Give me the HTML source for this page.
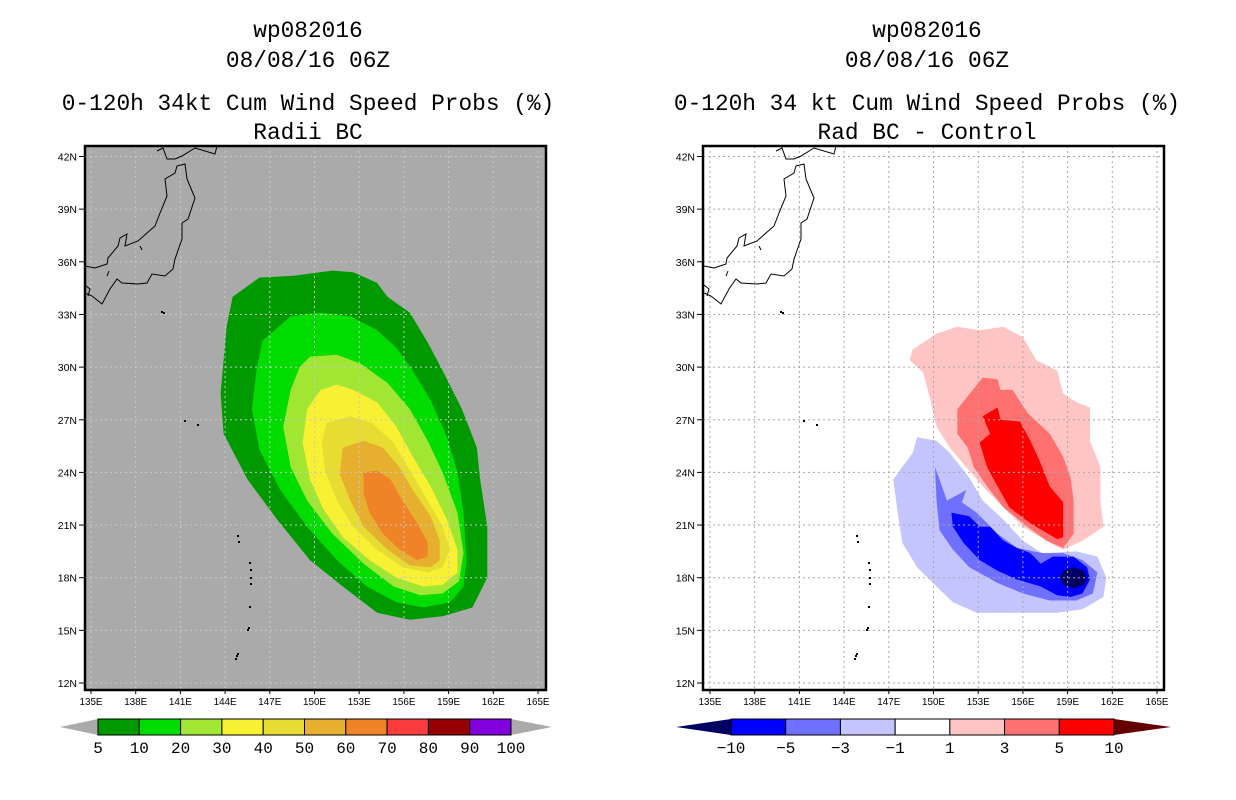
<!DOCTYPE html>
<html><head><meta charset="utf-8"><style>
body{margin:0;background:#fff;}
svg{display:block;}
text{font-family:"Liberation Mono",monospace;fill:#000;}
.ax text{font-family:"Liberation Sans",sans-serif;}
</style></head><body>
<svg id="chart" width="1236" height="800" viewBox="0 0 1236 800" xmlns="http://www.w3.org/2000/svg">
<g id="titles" font-size="22.8" text-anchor="middle">
<text x="308" y="37">wp082016</text>
<text x="308" y="67">08/08/16 06Z</text>
<text x="308" y="110">0-120h 34kt Cum Wind Speed Probs (%)</text>
<text x="308" y="139">Radii BC</text>
<text x="927" y="37">wp082016</text>
<text x="927" y="67">08/08/16 06Z</text>
<text x="927" y="110">0-120h 34 kt Cum Wind Speed Probs (%)</text>
<text x="927" y="139">Rad BC - Control</text>
</g>
</svg>
<script>
// axis ticks
const lonTicks=[135,138,141,144,147,150,153,156,159,162,165];
const latTicks=[12,15,18,21,24,27,30,33,36,39,42];
// left panel contour levels (lon,lat outlines)
const probLevels=[5,10,20,30,40,50,60];
const prob5=[[146.3,35.1],[148.6,35.2],[151.2,35.5],[152.6,35.4],[154.2,34.8],[154.9,34.0],[156.4,33.1],[157.6,31.4],[158.6,29.8],[159.9,27.6],[160.9,25.4],[161.1,23.7],[161.6,20.9],[161.6,18.0],[160.6,16.3],[158.6,15.8],[156.4,15.6],[154.2,16.0],[151.9,17.5],[149.7,19.0],[147.5,21.3],[145.5,23.6],[143.9,26.2],[143.7,28.5],[144.1,32.3],[144.5,34.0]];
const prob10=[[148.4,32.9],[150.4,33.1],[152.4,32.9],[154.2,32.1],[155.5,31.1],[156.6,29.8],[157.8,28.1],[158.9,26.0],[159.6,24.0],[160.0,21.7],[160.2,19.0],[160.0,17.5],[159.1,16.6],[157.3,16.3],[155.5,16.6],[153.5,17.5],[151.5,19.0],[149.5,20.9],[147.7,23.0],[146.3,25.3],[145.8,27.6],[146.1,29.8],[146.5,31.5]];
const prob20=[[149.7,30.6],[151.5,30.7],[153.1,30.2],[154.9,29.1],[156.4,27.6],[157.6,25.8],[158.6,24.0],[159.6,21.7],[160.0,19.4],[159.7,17.8],[158.6,17.1],[157.1,17.0],[155.3,17.5],[153.3,18.8],[151.2,20.5],[149.5,22.4],[148.4,24.3],[147.9,26.6],[148.4,28.7],[149.0,30.0]];
const prob30=[[150.4,28.7],[151.5,29.0],[152.6,28.7],[154.2,28.0],[155.5,26.6],[156.6,24.9],[157.8,23.2],[158.9,21.3],[159.6,19.6],[159.6,18.3],[158.6,17.6],[157.3,17.5],[155.5,18.0],[153.7,19.0],[151.9,20.3],[150.6,21.9],[149.7,23.6],[149.2,25.7],[149.5,27.6]];
const prob40=[[150.8,26.8],[152.4,27.2],[153.9,26.8],[155.3,25.7],[156.4,24.1],[157.6,22.4],[158.6,20.9],[159.1,19.6],[158.6,18.6],[157.6,18.3],[155.9,18.6],[154.2,19.6],[152.6,20.9],[151.5,22.4],[150.7,24.1],[150.5,25.7]];
const prob50=[[151.9,25.4],[153.3,25.8],[154.6,25.4],[155.7,24.3],[156.6,23.0],[157.8,21.5],[158.4,20.1],[158.4,19.0],[157.8,18.6],[156.4,18.7],[154.9,19.6],[153.3,20.9],[152.4,22.4],[151.7,23.9]];
const prob60=[[153.3,24.0],[154.2,24.1],[155.1,23.6],[155.9,22.4],[156.9,21.1],[157.6,20.0],[157.6,19.2],[156.9,19.0],[155.7,19.6],[154.6,20.5],[153.7,21.7],[153.3,22.8]];
// right panel difference contours
const diffP1=[[148.6,31.0],[150.2,31.9],[151.6,32.3],[153.1,32.1],[154.7,32.3],[156.0,31.7],[156.9,30.4],[158.3,29.8],[158.7,28.5],[159.6,28.0],[160.5,27.7],[160.5,25.8],[161.2,24.3],[161.2,22.4],[161.4,20.9],[160.0,20.1],[158.7,19.6],[157.8,20.0],[156.0,20.9],[154.7,22.0],[153.3,23.2],[152.2,24.3],[151.1,25.4],[150.2,26.6],[149.8,28.1],[149.3,29.7],[148.4,30.4]];
const diffP3=[[151.6,27.6],[153.3,29.4],[154.3,29.3],[154.5,28.7],[155.3,28.7],[156.3,27.4],[157.8,26.2],[158.7,24.9],[159.2,23.7],[159.4,22.4],[159.4,20.5],[158.7,19.7],[157.6,20.1],[156.3,20.9],[154.7,22.0],[153.6,23.2],[152.7,24.3],[152.3,25.4],[151.6,26.2]];
const diffP5=[[153.3,27.2],[154.3,27.7],[154.5,27.0],[155.8,26.9],[156.5,25.8],[157.1,24.7],[157.8,23.2],[158.7,22.3],[158.7,20.3],[158.3,20.2],[156.5,21.1],[155.1,22.0],[154.3,23.2],[153.6,24.3],[153.1,25.7],[153.8,26.2]];
const diffM1=[[148.9,26.0],[150.2,25.8],[151.1,25.1],[152.4,23.7],[153.3,22.4],[154.7,21.3],[156.0,20.1],[157.3,19.4],[159.6,19.5],[161.0,19.2],[161.6,18.0],[161.4,16.9],[160.0,16.2],[158.3,16.0],[155.8,16.0],[154.3,16.0],[152.9,16.0],[151.3,16.6],[150.2,17.5],[148.9,18.6],[147.9,20.0],[147.6,21.7],[147.3,23.6],[147.9,24.3],[148.6,25.1]];
const diffM3=[[150.1,24.3],[150.4,23.6],[150.9,22.4],[151.8,22.8],[152.2,23.0],[151.9,22.3],[152.9,21.7],[154.3,20.5],[155.6,19.7],[157.3,19.4],[158.7,19.4],[160.0,19.0],[161.0,18.3],[160.7,17.1],[159.6,16.7],[157.8,16.7],[156.0,17.1],[154.3,17.7],[152.4,18.6],[151.3,19.6],[150.4,20.7],[150.2,22.4]];
const diffM5=[[151.2,21.7],[152.4,21.5],[153.1,20.9],[153.8,20.9],[154.7,20.1],[155.6,19.7],[156.5,19.4],[157.2,18.8],[158.0,19.2],[159.4,19.2],[160.3,18.6],[160.5,17.9],[160.0,17.1],[159.2,16.9],[158.3,17.0],[157.2,17.5],[155.6,17.9],[154.3,18.4],[153.1,19.0],[152.0,20.0],[151.3,20.9]];
const diffM10=[[158.5,18.0],[158.7,18.4],[159.4,18.6],[160.1,18.4],[160.3,18.0],[160.1,17.6],[159.4,17.4],[158.7,17.6]];
const probColorLabels=["5","10","20","30","40","50","60","70","80","90","100"];
const diffColorLabels=["-10","-5","-3","-1","1","3","5","10"];

const NS="http://www.w3.org/2000/svg";
const svg=document.getElementById('chart');
function mk(tag,attrs,parent){const e=document.createElementNS(NS,tag);for(const k in attrs)e.setAttribute(k,attrs[k]);(parent||svg).appendChild(e);return e;}
const panels=[{x0:85,x1:546,lon0:91,bg:'#aaaaaa',grid:'#c8c8c8',name:'left'},{x0:703,x1:1164,lon0:710,bg:'#ffffff',grid:'#a8a8a8',name:'right'}];
const Y0=146,Y1=690;
function xScale(p,lon){return p.lon0+(lon-135)*14.9;}
function yScale(lat){return 683-(lat-12)*17.55;}
function pts(p,arr){return arr.map(d=>xScale(p,d[0]).toFixed(1)+','+yScale(d[1]).toFixed(1)).join(' ');}

const coast="M85,266 L95,268 L107,264 L108,258 L118,246 L120,238 L127,234 L125,246 L138,241 L147,233 L155,226 L160,213 L167,196 L165,179 L175,173 L177,166 L185,164 L187,179 L195,198 L188,219 L182,223 L182,239 L175,259 L173,269 L165,276 L152,274 L147,283 L138,284 L122,283 L117,279 L110,289 L102,304 L92,296 L85,293 M157,151 L163,148 L167,159 L175,159 L182,156 L195,148 L215,154 L217,146 M140,246 L142,250 M109,271 L107,276 M85,285 L90,289 L88,296";
const islands=[[161,311],[163,312],[184,420],[197,424],[237,535],[238,541],[249,562],[250,569],[250,577],[250,583],[249,606],[248,627],[247,629],[236,655],[235,658],[237,653]];

panels.forEach((p,pi)=>{
  const g=mk('g',{});  
  const bg=mk('rect',{x:p.x0,y:Y0,width:p.x1-p.x0,height:Y1-Y0,fill:p.bg},g);
   
  const cg=mk('g',{},g);  
  let layers;
  if(pi===0){layers=[[prob5,'#009a00'],[prob10,'#00dc00'],[prob20,'#a0e632'],[prob30,'#f8f032'],[prob40,'#e6dc32'],[prob50,'#e6af2d'],[prob60,'#f08228']];}
  else{layers=[[diffP1,'#ffc4c4'],[diffP3,'#ff7070'],[diffP5,'#ff0000'],[diffM1,'#c4c4ff'],[diffM3,'#7070ff'],[diffM5,'#0000ff'],[diffM10,'#000064']];}
  layers.forEach((L,i)=>{const pg=mk('polygon',{points:pts(p,L[0]),fill:L[1]},cg);
    
    });
  const gg=mk('g',{stroke:p.grid,'stroke-width':1,'stroke-dasharray':'2,3'},g);
   
  lonTicks.forEach(l=>mk('line',{x1:xScale(p,l),x2:xScale(p,l),y1:Y0,y2:Y1},gg));
  latTicks.forEach(l=>mk('line',{x1:p.x0,x2:p.x1,y1:yScale(l),y2:yScale(l)},gg));
  const cl=mk('path',{d:coast,fill:'none',stroke:'#000','stroke-width':1,transform:'translate('+(p.lon0-91)+',0)'},g);
   
  islands.forEach(d=>mk('rect',{x:d[0]+(p.lon0-91),y:d[1],width:2,height:2,fill:'#000'},g));
  const bd=mk('rect',{x:p.x0,y:Y0,width:p.x1-p.x0,height:Y1-Y0,fill:'none',stroke:'#000','stroke-width':2.5},g);
   
  const ax=mk('g',{'font-size':'10.5','class':'ax'},g);  
  lonTicks.forEach(l=>{const x=xScale(p,l);mk('line',{x1:x,x2:x,y1:Y1,y2:Y1+4,stroke:'#000'},ax);
    const t=mk('text',{x:x,y:Y1+15,'text-anchor':'middle',textLength:'23',lengthAdjust:'spacingAndGlyphs'},ax);t.textContent=l+'E';
    
    });
  latTicks.forEach(l=>{const y=yScale(l);mk('line',{x1:p.x0-6,x2:p.x0,y1:y,y2:y,stroke:'#000'},ax);
    const t=mk('text',{x:p.x0-8,y:y+4,'text-anchor':'end'},ax);t.textContent=l+'N';
    
    });
});

// colorbars
function colorbar(name,xL,x0,x1,xR,cols,leftCol,rightCol,labels){
  const g=mk('g',{});  
  const y0=719,y1=735,ym=727;
  mk('polygon',{points:xL+','+ym+' '+x0+','+y0+' '+x0+','+y1,fill:leftCol},g);
  mk('polygon',{points:xR+','+ym+' '+x1+','+y0+' '+x1+','+y1,fill:rightCol},g);
  const w=(x1-x0)/cols.length;
  cols.forEach((c,i)=>{const r=mk('rect',{x:x0+i*w,y:y0,width:w,height:y1-y0,fill:c,stroke:'#000','stroke-width':1},g);
    
    });
  labels.forEach((s,i)=>{const t=mk('text',{x:x0+i*w,y:753,'text-anchor':'middle','font-size':'16'},g);t.textContent=s.replace('-','\u2212');
    
    });
}
colorbar('probability-colorbar',60,98,511,552,['#009a00','#00dc00','#a0e632','#f8f032','#e6dc32','#e6af2d','#f08228','#fa3c3c','#960000','#8200dc'],'#aaaaaa','#aaaaaa',probColorLabels);
colorbar('difference-colorbar',676,731,1114,1171,['#0000ff','#7070ff','#c4c4ff','#ffffff','#ffc4c4','#ff7070','#ff0000'],'#000064','#640000',diffColorLabels);
</script>
</body></html>
